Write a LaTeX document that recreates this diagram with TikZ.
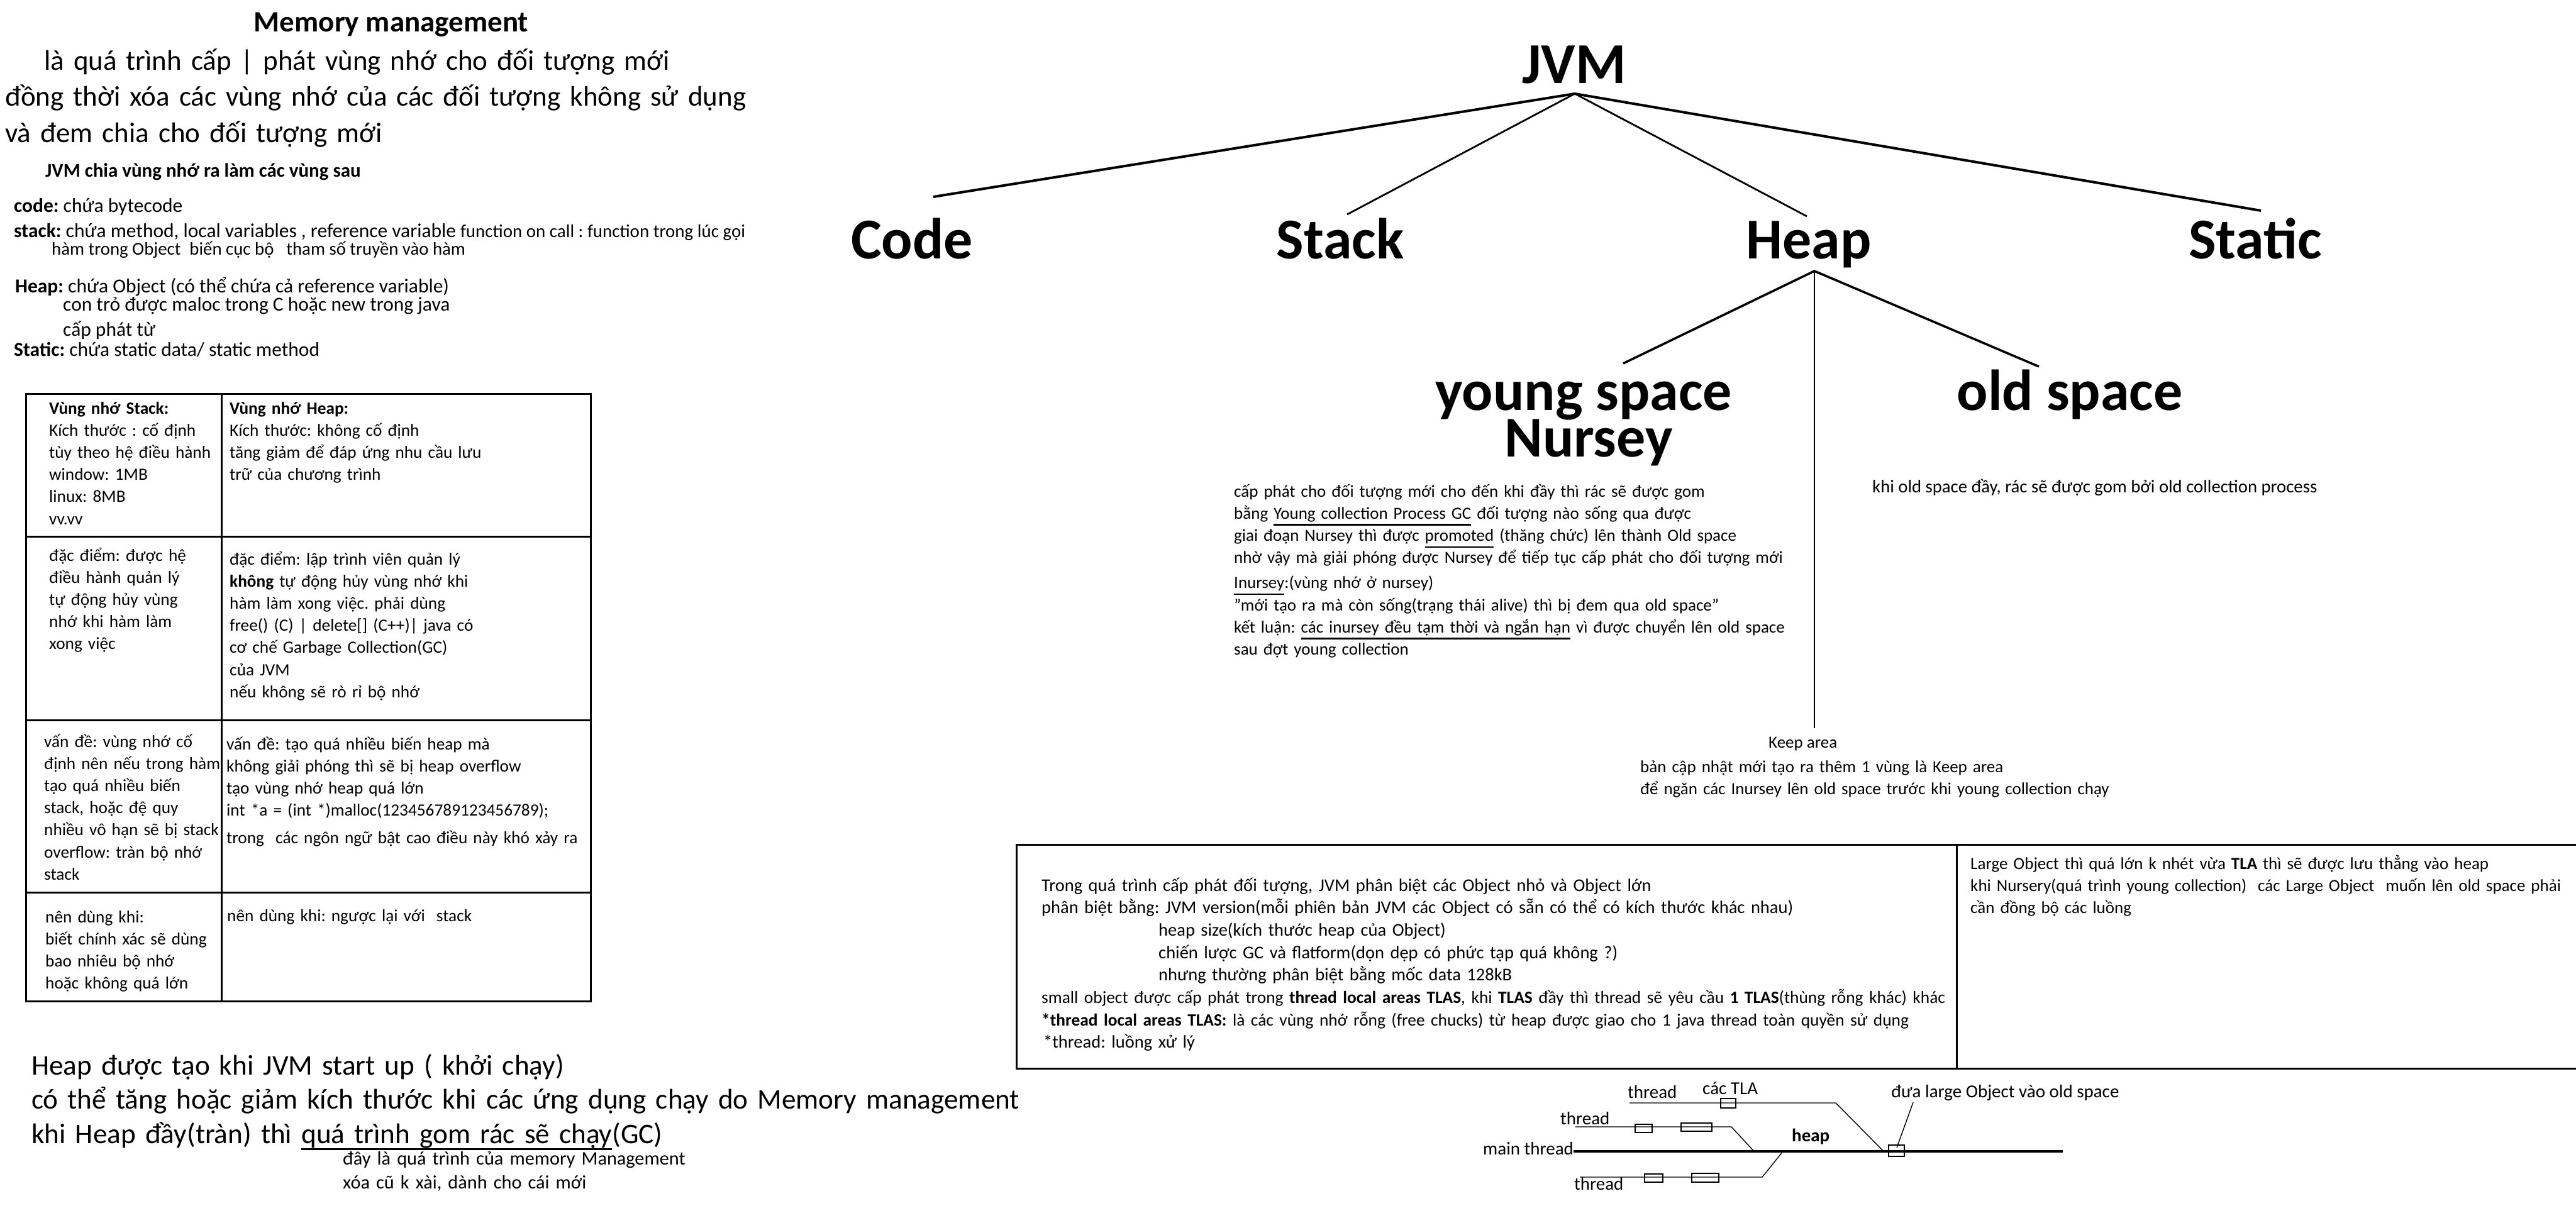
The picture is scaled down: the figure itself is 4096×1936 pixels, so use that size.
\documentclass[tikz,border=0pt]{standalone}
\usepackage{fontspec}
\setmainfont{Carlito}
\usetikzlibrary{positioning}
\frenchspacing
\lineskiplimit=-1000pt
\newcommand{\ulword}[1]{\leavevmode\setbox0\hbox{#1}\rlap{\rule[-10.5pt]{\wd0}{2.6pt}}\box0\relax}

\begin{document}
\begin{tikzpicture}[x=1pt, y=-1pt,
    lbl/.style={anchor=base west, inner sep=0pt, font=\fontsize{29}{35.5}\selectfont},
    para/.style={lbl, text width=#1, align=left},
    big/.style={anchor=base, inner sep=0pt, font=\fontsize{92}{100}\selectfont\bfseries},
    grid/.style={line width=3pt},
    branch/.style={line width=#1},
    wire/.style={line width=1.4pt},
    tla/.style={line width=1.3pt}]
    \useasboundingbox (0,0) rectangle (4096,1936);
    \fill[white] (0,0) rectangle (4096,1936);

    % memory management notes
    \node[lbl, anchor=base, font=\fontsize{47}{57}\selectfont\bfseries] (mmtitle) at (622,50) {Memory management};
    \node[para=1400, font=\fontsize{45}{57.5}\selectfont] (mmdef) at (8,111)
        {\hspace*{62pt}là quá trình cấp | phát vùng nhớ cho đối tượng mới\\
         đồng thời xóa các vùng nhớ của các đối tượng không sử dụng\\
         và đem chia cho đối tượng mới};
    \node[lbl, font=\fontsize{31}{36}\selectfont\bfseries] (jvmsplit) at (72,281) {JVM chia vùng nhớ ra làm các vùng sau};
    \node[lbl, font=\fontsize{31.5}{39}\selectfont] (codedef) at (22,337) {\textbf{code:} chứa bytecode};
    \node[lbl, font=\fontsize{31.5}{39}\selectfont] (stackdef) at (22,377)
        {\textbf{stack:} chứa method, local variables , reference variable {\fontsize{29}{35}\selectfont function on call : function trong lúc gọi}};
    \node[lbl, font=\fontsize{28.8}{39}\selectfont] (stacknote) at (82,405)
        {hàm trong Object\hspace{14pt}biến cục bộ\hspace{20pt}tham số truyền vào hàm};
    \node[lbl, font=\fontsize{31.5}{39}\selectfont] (heapdef) at (24,465) {\textbf{Heap:} chứa Object (có thể chứa cả reference variable)};
    \node[lbl, font=\fontsize{31.5}{39}\selectfont] (heapnote) at (100,494) {con trỏ được maloc trong C hoặc new trong java};
    \node[lbl, font=\fontsize{31.5}{39}\selectfont] (heapnote2) at (100,534) {cấp phát từ};
    \node[lbl, font=\fontsize{31.5}{39}\selectfont] (staticdef) at (22,566) {\textbf{Static:} chứa static data/ static method};

    % stack vs heap table
    \draw[grid] (41,626) rectangle (939,1592);
    \foreach \y in {853,1145,1419}
        \draw[grid] (41,\y) -- (939,\y);
    \draw[grid] (352,626) -- (352,1592);
    \tikzset{cell/.style={para=#1, font=\fontsize{27.3}{35.2}\selectfont}}
    \node[cell=300] (stack1) at (78,658)
        {\textbf{Vùng nhớ Stack:}\\ Kích thước : cố định\\ tùy theo hệ điều hành\\ window: 1MB\\ linux: 8MB\\ vv.vv};
    \node[cell=560] (heap1) at (365,658)
        {\textbf{Vùng nhớ Heap:}\\ Kích thước: không cố định\\ tăng giảm để đáp ứng nhu cầu lưu\\ trữ của chương trình};
    \node[cell=300] (stack2) at (78,892)
        {đặc điểm: được hệ\\ điều hành quản lý\\ tự động hủy vùng\\ nhớ khi hàm làm\\ xong việc};
    \node[cell=560] (heap2) at (365,898)
        {đặc điểm: lập trình viên quản lý\\ \textbf{không} tự động hủy vùng nhớ khi\\ hàm làm xong việc. phải dùng\\
         free() (C) | delete[] (C++)| java có\\ cơ chế Garbage Collection(GC)\\ của JVM\\ nếu không sẽ rò rỉ bộ nhớ};
    \node[cell=300] (stack3) at (70,1188)
        {vấn đề: vùng nhớ cố\\ định nên nếu trong hàm\\ tạo quá nhiều biến\\ stack, hoặc đệ quy\\
         nhiều vô hạn sẽ bị stack\\ overflow: tràn bộ nhớ\\ stack};
    \node[cell=580] (heap3) at (360,1192)
        {vấn đề: tạo quá nhiều biến heap mà\\ không giải phóng thì sẽ bị heap overflow\\ tạo vùng nhớ heap quá lớn\\
         int *a = (int *)malloc(123456789123456789);\\[8.5pt] trong\ \ các ngôn ngữ bật cao điều này khó xảy ra};
    \node[cell=300] (stack4) at (72,1467)
        {nên dùng khi:\\ biết chính xác sẽ dùng\\ bao nhiêu bộ nhớ\\ hoặc không quá lớn};
    \node[cell=560] (heap4) at (361,1465) {nên dùng khi: ngược lại với\ \ stack};

    % heap notes
    \node[para=1700, font=\fontsize{45.2}{54.5}\selectfont] (heapgc) at (50,1709)
        {Heap được tạo khi JVM start up ( khởi chạy)\\
         có thể tăng hoặc giảm kích thước khi các ứng dụng chạy do Memory management\\
         khi Heap đầy(tràn) thì \ulword{quá trình gom rác sẽ chạy}(GC)};
    \node[para=700, font=\fontsize{30.3}{38}\selectfont] (gcnote) at (545,1852)
        {đây là quá trình của memory Management\\ xóa cũ k xài, dành cho cái mới};

    % JVM tree
    \node[big] (jvm) at (2503,132) {JVM};
    \node[big] (code) at (1450,411) {Code};
    \node[big] (stack) at (2131,411) {Stack};
    \node[big] (heap) at (2876,411) {Heap};
    \node[big] (static) at (3586,411) {Static};
    \coordinate (jvmroot) at (2504,149);
    \coordinate (code-in) at (1484,313);
    \coordinate (stack-in) at (2142,341);
    \coordinate (heap-in) at (2873,344);
    \coordinate (static-in) at (3595,335);
    \foreach \kid/\lw in {code/4pt, stack/2.8pt, heap/2.8pt, static/4pt}
        \draw[branch=\lw] (jvmroot) -- (\kid-in);

    % heap tree
    \node[big] (young) at (2518,652) {young space};
    \node[big] (nursey) at (2526,726) {Nursey};
    \node[big] (old) at (3291,652) {old space};
    \coordinate (heaproot) at (2885,431);
    \coordinate (young-in) at (2581,578);
    \coordinate (old-in) at (3242,583);
    \coordinate (keep-in) at (2885,1158);
    \draw[branch=3.6pt] (young-in) -- (heaproot) -- (old-in);
    \draw[branch=2.6pt] (heaproot) -- (keep-in);

    \node[para=1000, font=\fontsize{27}{35.3}\selectfont] (youngnote) at (1962,790)
        {cấp phát cho đối tượng mới cho đến khi đầy thì rác sẽ được gom\\
         bằng \ulword{Young collection Process GC} đối tượng nào sống qua được\\
         giai đoạn Nursey thì được \ulword{promoted} (thăng chức) lên thành Old space\\
         nhờ vậy mà giải phóng được Nursey để tiếp tục cấp phát cho đối tượng mới\\[4.5pt]
         \ulword{Inursey}:(vùng nhớ ở nursey)\\
         "mới tạo ra mà còn sống(trạng thái alive) thì bị đem qua old space"\\
         kết luận: \ulword{các inursey đều tạm thời và ngắn hạn} vì được chuyển lên old space\\
         sau đợt young collection};
    \node[lbl, font=\fontsize{28.7}{35}\selectfont] (oldnote) at (2977,783) {khi old space đầy, rác sẽ được gom bởi old collection process};
    \node[lbl, font=\fontsize{27}{35}\selectfont] (keep) at (2812,1189) {Keep area};
    \node[para=900, font=\fontsize{27}{35}\selectfont] (keepnote) at (2608,1228)
        {bản cập nhật mới tạo ra thêm 1 vùng là Keep area\\
         để ngăn các Inursey lên old space trước khi young collection chạy};

    % allocation boxes
    \draw[grid] (4096,1343) -- (1616,1343) -- (1616,1699) -- (4096,1699);
    \draw[grid] (3111,1343) -- (3111,1699);
    \node[para=1480, font=\fontsize{28.5}{35.7}\selectfont] (smallobj) at (1656,1417)
        {Trong quá trình cấp phát đối tượng, JVM phân biệt các Object nhỏ và Object lớn\\
         phân biệt bằng: JVM version(mỗi phiên bản JVM các Object có sẵn có thể có kích thước khác nhau)\\
         \hspace*{186pt}heap size(kích thước heap của Object)\\
         \hspace*{186pt}chiến lược GC và flatform(dọn dẹp có phức tạp quá không ?)\\
         \hspace*{186pt}nhưng thường phân biệt bằng mốc data 128kB\\
         {\fontsize{27.4}{35.7}\selectfont small object được cấp phát trong \textbf{thread local areas TLAS}, khi \textbf{TLAS} đầy thì thread sẽ yêu cầu \textbf{1 TLAS}(thùng rỗng khác) khác}\\
         {\fontsize{27.4}{35.7}\selectfont\textbf{*thread local areas TLAS:} là các vùng nhớ rỗng (free chucks) từ heap được giao cho 1 java thread toàn quyền sử dụng}\\
         \hspace*{3pt}*thread: luồng xử lý};
    \node[para=960, font=\fontsize{27}{35}\selectfont] (largeobj) at (3133,1382)
        {Large Object thì quá lớn k nhét vừa \textbf{TLA} thì sẽ được lưu thẳng vào heap\\
         khi Nursery(quá trình young collection)\ \ các Large Object\ \ muốn lên old space phải\\
         cần đồng bộ các luồng};

    % threads and heap
    \node[lbl] (thread1) at (2588,1746) {thread};
    \node[lbl] (tlas) at (2707,1740) {các TLA};
    \node[lbl] (thread2) at (2481,1788) {thread};
    \node[lbl, font=\fontsize{29}{35}\selectfont\bfseries] (heaplbl) at (2849,1815) {heap};
    \node[lbl] (mainthread) at (2358,1836) {main thread};
    \node[lbl] (thread3) at (2503,1892) {thread};
    \node[lbl] (tolarge) at (3007,1745) {đưa large Object vào old space};
    \draw[line width=4pt] (2502,1831) -- (3280,1831);
    \foreach \xa/\xb/\yy/\xc in {2591/2919/1754/2995, 2505/2753/1792/2789, 2512/2802/1872/2835}
        \draw[wire] (\xa,\yy) -- (\xb,\yy) -- (\xc,1831);
    \foreach \xa/\ya/\xb/\yb in {2736/1747/2760/1762, 2600/1788/2627/1801, 2673/1786/2722/1799,
                                 2615/1867/2644/1880, 2690/1866/2733/1880, 3003/1821/3028/1839}
        \draw[tla] (\xa,\ya) rectangle (\xb,\yb);
    \draw[wire] (3042,1753) -- (3016,1825);
\end{tikzpicture}
\end{document}
